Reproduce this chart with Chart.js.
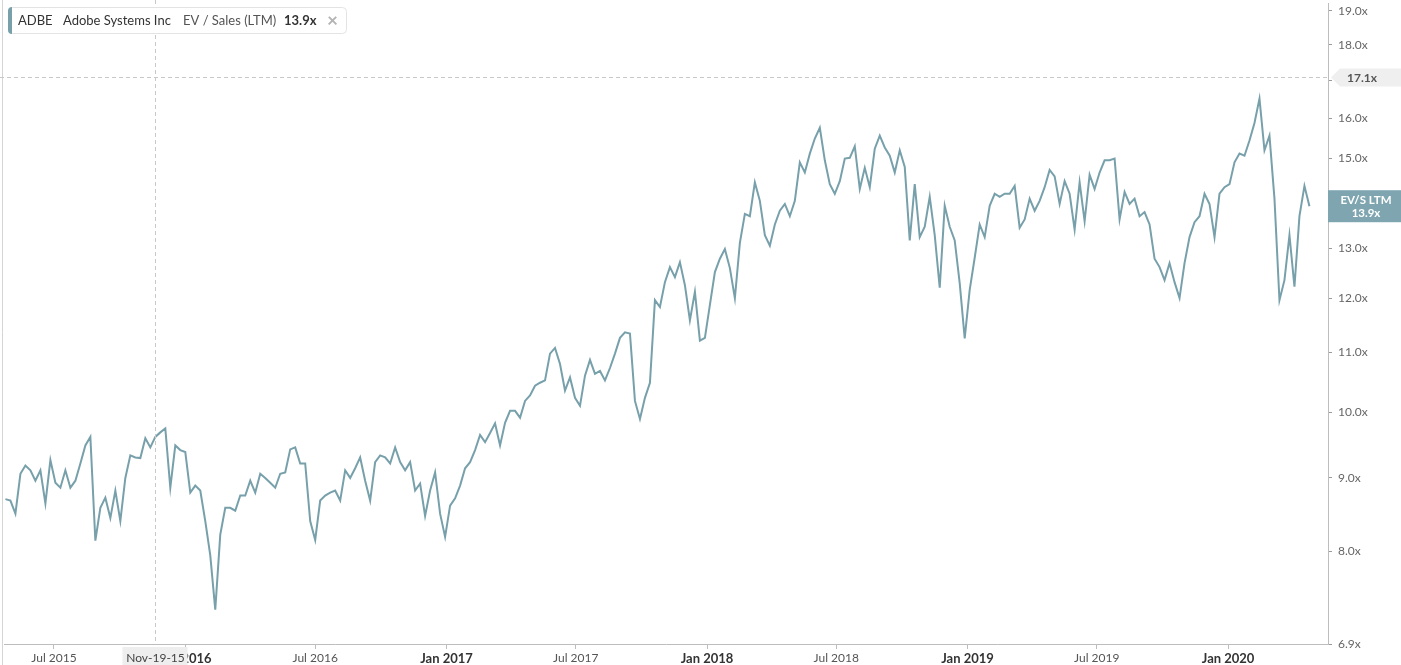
<!DOCTYPE html>
<html>
<head>
<meta charset="utf-8">
<title>ADBE EV / Sales (LTM)</title>
<script src="https://cdn.jsdelivr.net/npm/chart.js@4.4.1/dist/chart.umd.min.js"></script>
<style>
  html, body { margin: 0; padding: 0; background: #fff; }
  #wrap { position: relative; width: 1401px; height: 665px; }
</style>
</head>
<body>
<div id="wrap"><canvas id="evChart"></canvas></div>
<script>
/* ADBE  EV / Sales (LTM), weekly closes
---------------------------------------- */

var ticker = 'ADBE';
var company = 'Adobe Systems Inc';
var metric = 'EV / Sales (LTM)';
var latestValue = 13.9;

// first weekly point, then one value per week
var startDate = '2015-04-24';
var evSales = [
  8.70, 8.68, 8.50, 9.06, 9.18, 9.11, 8.96, 9.11, 8.64, 9.26,
  8.93, 8.86, 9.11, 8.86, 8.96, 9.21, 9.48, 9.61, 8.14, 8.58,
  8.72, 8.44, 8.82, 8.40, 9.00, 9.33, 9.30, 9.29, 9.59, 9.45,
  9.61, 9.68, 9.74, 8.86, 9.48, 9.41, 9.38, 8.79, 8.89, 8.82,
  8.40, 7.95, 7.29, 8.22, 8.58, 8.58, 8.54, 8.75, 8.75, 8.96,
  8.79, 9.06, 9.00, 8.93, 8.86, 9.06, 9.08, 9.42, 9.45, 9.21,
  9.21, 8.40, 8.15, 8.68, 8.75, 8.79, 8.82, 8.68, 9.11, 9.00,
  9.14, 9.30, 8.96, 8.68, 9.23, 9.33, 9.30, 9.21, 9.45, 9.23,
  9.11, 9.23, 8.82, 8.92, 8.47, 8.82, 9.08, 8.50, 8.19, 8.61,
  8.71, 8.89, 9.14, 9.23, 9.41, 9.64, 9.53, 9.67, 9.82, 9.48,
  9.83, 10.02, 10.02, 9.91, 10.18, 10.27, 10.43, 10.48, 10.52, 10.98,
  11.08, 10.80, 10.35, 10.57, 10.23, 10.10, 10.60, 10.87, 10.63, 10.68,
  10.52, 10.73, 10.98, 11.26, 11.36, 11.34, 10.18, 9.89, 10.23, 10.48,
  11.96, 11.83, 12.31, 12.61, 12.41, 12.71, 12.25, 11.58, 12.12, 11.21,
  11.26, 11.87, 12.51, 12.78, 12.98, 12.59, 12.00, 13.11, 13.73, 13.68,
  14.44, 14.02, 13.27, 13.05, 13.50, 13.80, 13.95, 13.68, 14.02, 14.91,
  14.67, 15.12, 15.49, 15.76, 14.96, 14.40, 14.18, 14.47, 15.00, 15.02,
  15.30, 14.29, 14.78, 14.33, 15.24, 15.56, 15.27, 15.07, 14.67, 15.20,
  14.80, 13.16, 14.40, 13.23, 13.45, 14.11, 13.27, 12.20, 13.91, 13.45,
  13.16, 12.29, 11.25, 12.16, 12.80, 13.50, 13.23, 13.91, 14.18, 14.11,
  14.18, 14.18, 14.36, 13.43, 13.61, 14.07, 13.80, 14.02, 14.33, 14.73,
  14.58, 13.95, 14.47, 14.18, 13.39, 14.44, 13.57, 14.62, 14.29, 14.67,
  14.96, 14.96, 15.00, 13.61, 14.22, 13.95, 14.07, 13.68, 13.77, 13.50,
  12.78, 12.61, 12.35, 12.69, 12.31, 12.00, 12.69, 13.23, 13.55, 13.68,
  14.18, 13.95, 13.23, 14.18, 14.33, 14.40, 14.91, 15.12, 15.07, 15.44,
  15.88, 16.51, 15.20, 15.56, 14.07, 11.96, 12.35, 13.27, 12.22, 13.68,
  14.36, 13.90
];

var tickDates = ['2015-07-01', '2016-01-01', '2016-07-01', '2017-01-01', '2017-07-01',
                 '2018-01-01', '2018-07-01', '2019-01-01', '2019-07-01', '2020-01-01'];
var tickLabels = ['Jul 2015', 'Jan 2016', 'Jul 2016', 'Jan 2017', 'Jul 2017',
                  'Jan 2018', 'Jul 2018', 'Jan 2019', 'Jul 2019', 'Jan 2020'];
var yTicks = [6.9, 8, 9, 10, 11, 12, 13, 14, 15, 16, 17, 18, 19];

// crosshair (mouse position in the screenshot)
var crossDate = '2015-11-19';
var crossLabel = 'Nov-19-15';
var crossValue = 17.1;

var lineColor = '#77a0ab';
var fontFamily = 'Lato, "Open Sans", sans-serif';

// days since Jul 1 2015
function dayOf(s) {
  var p = s.split('-');
  return (Date.UTC(+p[0], +p[1] - 1, +p[2]) - Date.UTC(2015, 6, 1)) / 86400000;
}

// Jan ticks are bold
function isJan(c) {
  var lbl = (c && c.tick && c.tick.label) || tickLabels[c ? c.index : -1] || '';
  return String(lbl).indexOf('Jan') === 0;
}

var startDay = dayOf(startDate);
var points = evSales.map(function (v, i) {
  return { x: startDay + 7 * i, y: v };
});


/* overlays: frame, y labels, crosshair, legend box, value tags
---------------------------- */
var overlay = {
  id: 'overlay',
  afterDraw: function (chart) {
    var ctx = chart.ctx, area = chart.chartArea;
    var xs = chart.scales.x, ys = chart.scales.y;
    var r = area.right;
    ctx.save();

    // left frame
    ctx.strokeStyle = '#d4d4d4';
    ctx.lineWidth = 1;
    ctx.beginPath();
    ctx.moveTo(2.5, 0); ctx.lineTo(2.5, chart.height);
    ctx.stroke();

    // y tick labels (placed on the scale's own tick positions)
    ctx.fillStyle = '#666';
    ctx.font = '12px ' + fontFamily;
    ctx.textAlign = 'left';
    ctx.textBaseline = 'middle';
    ys.ticks.forEach(function (t) {
      if (Math.abs(t.value - crossValue) < 0.5) return; // under the crosshair tag
      ctx.fillText(Number(t.value).toFixed(1) + 'x', r + 10, ys.getPixelForValue(t.value));
    });

    // crosshair lines
    var cx = Math.round(xs.getPixelForValue(dayOf(crossDate))) + 0.5;
    var cy = Math.round(ys.getPixelForValue(crossValue)) + 0.5;
    ctx.setLineDash([4, 3]);
    ctx.strokeStyle = '#c8c8c8';
    ctx.beginPath();
    ctx.moveTo(cx, 0); ctx.lineTo(cx, area.bottom);
    ctx.moveTo(0, cy); ctx.lineTo(r, cy);
    ctx.stroke();
    ctx.setLineDash([]);

    // date tag under the axis
    ctx.fillStyle = '#eeeeee';
    ctx.fillRect(cx - 33, area.bottom + 3, 65, chart.height - area.bottom - 3);
    ctx.fillStyle = '#444';
    ctx.font = '12px ' + fontFamily;
    ctx.textAlign = 'center';
    ctx.fillText(crossLabel, cx, area.bottom + 14);

    // value tag on the y axis
    ctx.fillStyle = '#efefef';
    ctx.beginPath();
    ctx.moveTo(r + 3, cy);
    ctx.lineTo(r + 12, cy - 9);
    ctx.lineTo(chart.width, cy - 9);
    ctx.lineTo(chart.width, cy + 9);
    ctx.lineTo(r + 12, cy + 9);
    ctx.closePath();
    ctx.fill();
    ctx.fillStyle = '#555';
    ctx.font = 'bold 12px ' + fontFamily;
    ctx.textAlign = 'left';
    ctx.fillText(crossValue.toFixed(1) + 'x', r + 19, cy + 1);

    // latest value box
    var ly = ys.getPixelForValue(latestValue);
    ctx.fillStyle = '#7fa6b0';
    ctx.fillRect(r, ly - 16, chart.width - r, 32);
    ctx.fillStyle = '#fff';
    ctx.font = 'bold 11.5px ' + fontFamily;
    ctx.textAlign = 'center';
    ctx.fillText('EV/S LTM', r + 38, ly - 6);
    ctx.fillText(latestValue.toFixed(1) + 'x', r + 38, ly + 7);

    // legend box top left
    ctx.fillStyle = '#fff';
    ctx.strokeStyle = '#e3e3e3';
    ctx.beginPath();
    ctx.roundRect(8.5, 7.5, 338, 26, 4);
    ctx.fill();
    ctx.stroke();
    ctx.fillStyle = lineColor;
    ctx.beginPath();
    ctx.roundRect(8, 7, 4, 27, [4, 0, 0, 4]);
    ctx.fill();

    ctx.textAlign = 'left';
    ctx.textBaseline = 'middle';
    ctx.font = '13px ' + fontFamily;
    ctx.fillStyle = '#333';
    ctx.fillText(ticker, 18, 21);
    ctx.fillText(company, 63, 21);
    ctx.fillStyle = '#555';
    ctx.fillText(metric, 183, 21);
    ctx.fillStyle = '#333';
    ctx.font = 'bold 13px ' + fontFamily;
    ctx.fillText(latestValue.toFixed(1) + 'x', 284, 21);
    ctx.fillStyle = '#b3b3b3';
    ctx.font = 'bold 19px ' + fontFamily;
    ctx.fillText('\u00d7', 327, 21);

    ctx.restore();
  }
};


/* EV / Sales line chart
---------------------------- */
var ctx1 = document.getElementById('evChart');
var evChart = new Chart(ctx1, {
  type: 'line',
  data: {
    datasets: [{
      data: points,
      borderColor: lineColor,
      borderWidth: 2,
      pointRadius: 0,
      tension: 0,
      fill: false
    }]
  },
  options: {
    responsive: true,
    maintainAspectRatio: false,
    animation: false,
    events: [],
    layout: { padding: { left: 4, top: 3, right: 0, bottom: 0 } },
    plugins: {
      legend: { display: false },
      tooltip: { enabled: false }
    },
    scales: {
      x: {
        type: 'linear',
        min: dayOf('2015-04-22'),
        max: dayOf('2020-05-20'),
        afterBuildTicks: function (scale) {
          scale.ticks = tickDates.map(function (d) { return { value: dayOf(d) }; });
        },
        afterFit: function (scale) { scale.height = 21; },
        grid: { drawOnChartArea: false, drawTicks: true, tickLength: 5, color: '#bdbdbd' },
        border: { display: true, color: '#bdbdbd' },
        ticks: {
          autoSkip: false,
          maxRotation: 0,
          padding: 2,
          callback: function (v, i) { return tickLabels[i]; },
          color: function (c) { return isJan(c) ? '#333' : '#555'; },
          font: function (c) {
            var jan = isJan(c);
            return { family: fontFamily, size: jan ? 13 : 12, weight: jan ? 'bold' : 'normal' };
          }
        }
      },
      y: {
        type: 'logarithmic',
        position: 'right',
        min: 6.9,
        max: 19.24,
        afterBuildTicks: function (scale) {
          scale.ticks = yTicks.map(function (v) { return { value: v }; });
        },
        afterFit: function (scale) { scale.width = 73; },
        grid: { drawOnChartArea: false, drawTicks: true, tickLength: 4, color: '#9a9a9a' },
        border: { display: true, color: '#bdbdbd' },
        ticks: { display: false }
      }
    }
  },
  plugins: [overlay]
});
</script>
</body>
</html>
